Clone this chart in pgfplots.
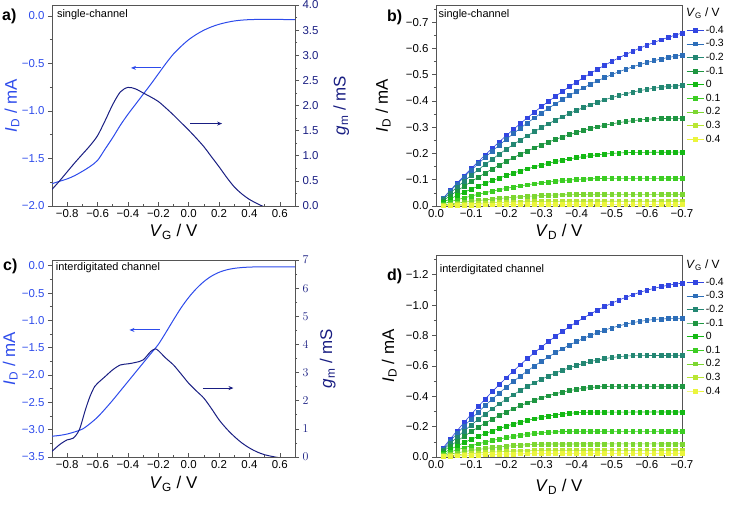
\documentclass[border=0pt]{standalone}
\usepackage{fontspec}
\setmainfont{Liberation Sans}
\usepackage{pgfplots}
\pgfplotsset{compat=1.18}
\usepackage{pgfplotstable}
\usetikzlibrary{arrows.meta}

\definecolor{idblue}{RGB}{45,75,235}
\definecolor{gmnavy}{RGB}{25,30,130}
\definecolor{axgray}{RGB}{85,85,85}
\definecolor{c1}{RGB}{50,70,225}
\definecolor{c2}{RGB}{45,110,185}
\definecolor{c3}{RGB}{35,135,115}
\definecolor{c4}{RGB}{30,150,65}
\definecolor{c5}{RGB}{20,185,20}
\definecolor{c6}{RGB}{60,205,35}
\definecolor{c7}{RGB}{125,215,50}
\definecolor{c8}{RGB}{185,230,50}
\definecolor{c9}{RGB}{235,245,60}

\pgfplotstableread{
V s1 s2 s3 s4 s5 s6 s7 s8 s9
-0.02 -0.0297 -0.0286 -0.0247 -0.0197 -0.0138 -0.0082 -0.0039 -0.0019 -0.0008
-0.04 -0.0587 -0.0566 -0.0486 -0.0388 -0.0270 -0.0161 -0.0076 -0.0038 -0.0015
-0.06 -0.0871 -0.0838 -0.0719 -0.0573 -0.0398 -0.0237 -0.0112 -0.0055 -0.0022
-0.08 -0.1149 -0.1102 -0.0946 -0.0752 -0.0522 -0.0309 -0.0145 -0.0071 -0.0028
-0.10 -0.1420 -0.1360 -0.1165 -0.0925 -0.0640 -0.0378 -0.0177 -0.0086 -0.0034
-0.12 -0.1685 -0.1610 -0.1378 -0.1092 -0.0754 -0.0444 -0.0207 -0.0100 -0.0039
-0.14 -0.1943 -0.1854 -0.1583 -0.1253 -0.0862 -0.0506 -0.0236 -0.0113 -0.0043
-0.16 -0.2195 -0.2090 -0.1782 -0.1408 -0.0966 -0.0564 -0.0262 -0.0124 -0.0047
-0.18 -0.2441 -0.2318 -0.1975 -0.1557 -0.1066 -0.0620 -0.0286 -0.0135 -0.0051
-0.20 -0.2680 -0.2540 -0.2160 -0.1700 -0.1160 -0.0672 -0.0309 -0.0144 -0.0054
-0.22 -0.2913 -0.2754 -0.2339 -0.1837 -0.1250 -0.0721 -0.0330 -0.0152 -0.0057
-0.24 -0.3139 -0.2962 -0.2510 -0.1968 -0.1334 -0.0766 -0.0349 -0.0159 -0.0059
-0.26 -0.3359 -0.3162 -0.2675 -0.2093 -0.1414 -0.0808 -0.0367 -0.0165 -0.0060
-0.28 -0.3573 -0.3354 -0.2834 -0.2212 -0.1490 -0.0847 -0.0382 -0.0170 -0.0061
-0.30 -0.3780 -0.3540 -0.2985 -0.2325 -0.1560 -0.0882 -0.0396 -0.0174 -0.0062
-0.32 -0.3981 -0.3718 -0.3130 -0.2432 -0.1626 -0.0914 -0.0408 -0.0177 -0.0062
-0.34 -0.4175 -0.3890 -0.3267 -0.2533 -0.1686 -0.0942 -0.0418 -0.0178 -0.0062
-0.36 -0.4363 -0.4054 -0.3398 -0.2628 -0.1742 -0.0968 -0.0426 -0.0179 -0.0062
-0.38 -0.4545 -0.4210 -0.3523 -0.2717 -0.1794 -0.0990 -0.0432 -0.0179 -0.0062
-0.40 -0.4720 -0.4360 -0.3640 -0.2800 -0.1840 -0.1008 -0.0437 -0.0179 -0.0062
-0.42 -0.4889 -0.4502 -0.3751 -0.2877 -0.1882 -0.1023 -0.0440 -0.0179 -0.0062
-0.44 -0.5051 -0.4638 -0.3854 -0.2948 -0.1918 -0.1035 -0.0441 -0.0179 -0.0062
-0.46 -0.5207 -0.4766 -0.3951 -0.3013 -0.1950 -0.1043 -0.0441 -0.0179 -0.0062
-0.48 -0.5357 -0.4886 -0.4042 -0.3072 -0.1978 -0.1048 -0.0441 -0.0179 -0.0062
-0.50 -0.5500 -0.5000 -0.4125 -0.3125 -0.2000 -0.1050 -0.0441 -0.0179 -0.0062
-0.52 -0.5637 -0.5106 -0.4202 -0.3172 -0.2018 -0.1050 -0.0441 -0.0179 -0.0062
-0.54 -0.5767 -0.5206 -0.4271 -0.3213 -0.2030 -0.1050 -0.0441 -0.0179 -0.0062
-0.56 -0.5891 -0.5298 -0.4334 -0.3248 -0.2038 -0.1050 -0.0441 -0.0179 -0.0062
-0.58 -0.6009 -0.5382 -0.4391 -0.3277 -0.2042 -0.1050 -0.0441 -0.0179 -0.0062
-0.60 -0.6120 -0.5460 -0.4440 -0.3300 -0.2043 -0.1050 -0.0441 -0.0179 -0.0062
-0.62 -0.6225 -0.5530 -0.4483 -0.3317 -0.2045 -0.1050 -0.0441 -0.0179 -0.0062
-0.64 -0.6323 -0.5594 -0.4518 -0.3328 -0.2046 -0.1050 -0.0441 -0.0179 -0.0062
-0.66 -0.6415 -0.5650 -0.4547 -0.3333 -0.2048 -0.1050 -0.0441 -0.0179 -0.0062
-0.68 -0.6501 -0.5698 -0.4570 -0.3334 -0.2049 -0.1050 -0.0441 -0.0179 -0.0062
-0.70 -0.6580 -0.5740 -0.4585 -0.3335 -0.2050 -0.1050 -0.0441 -0.0179 -0.0062
}\tabB

\pgfplotstableread{
V s1 s2 s3 s4 s5 s6 s7 s8 s9
-0.02 -0.0592 -0.0532 -0.0452 -0.0363 -0.0254 -0.0166 -0.0097 -0.0052 -0.0027
-0.04 -0.1169 -0.1048 -0.0888 -0.0711 -0.0497 -0.0323 -0.0188 -0.0101 -0.0052
-0.06 -0.1730 -0.1548 -0.1309 -0.1044 -0.0729 -0.0471 -0.0274 -0.0147 -0.0076
-0.08 -0.2275 -0.2032 -0.1713 -0.1362 -0.0948 -0.0612 -0.0353 -0.0188 -0.0098
-0.10 -0.2805 -0.2500 -0.2102 -0.1666 -0.1157 -0.0743 -0.0427 -0.0227 -0.0118
-0.12 -0.3319 -0.2952 -0.2475 -0.1955 -0.1354 -0.0866 -0.0495 -0.0262 -0.0136
-0.14 -0.3818 -0.3388 -0.2832 -0.2229 -0.1540 -0.0980 -0.0557 -0.0294 -0.0153
-0.16 -0.4301 -0.3808 -0.3173 -0.2489 -0.1714 -0.1086 -0.0613 -0.0322 -0.0168
-0.18 -0.4768 -0.4212 -0.3498 -0.2734 -0.1877 -0.1183 -0.0663 -0.0347 -0.0181
-0.20 -0.5220 -0.4600 -0.3808 -0.2964 -0.2028 -0.1272 -0.0708 -0.0368 -0.0192
-0.22 -0.5656 -0.4972 -0.4102 -0.3179 -0.2168 -0.1352 -0.0747 -0.0386 -0.0202
-0.24 -0.6077 -0.5328 -0.4380 -0.3380 -0.2296 -0.1424 -0.0780 -0.0400 -0.0209
-0.26 -0.6482 -0.5668 -0.4642 -0.3566 -0.2413 -0.1487 -0.0807 -0.0411 -0.0215
-0.28 -0.6871 -0.5992 -0.4888 -0.3737 -0.2519 -0.1541 -0.0828 -0.0419 -0.0220
-0.30 -0.7245 -0.6300 -0.5118 -0.3894 -0.2613 -0.1587 -0.0843 -0.0423 -0.0222
-0.32 -0.7603 -0.6592 -0.5332 -0.4036 -0.2696 -0.1624 -0.0852 -0.0424 -0.0223
-0.34 -0.7946 -0.6868 -0.5531 -0.4163 -0.2767 -0.1653 -0.0856 -0.0424 -0.0223
-0.36 -0.8273 -0.7128 -0.5714 -0.4275 -0.2827 -0.1673 -0.0857 -0.0424 -0.0223
-0.38 -0.8584 -0.7372 -0.5881 -0.4373 -0.2875 -0.1685 -0.0858 -0.0424 -0.0223
-0.40 -0.8880 -0.7600 -0.6032 -0.4456 -0.2912 -0.1688 -0.0859 -0.0424 -0.0223
-0.42 -0.9160 -0.7812 -0.6167 -0.4524 -0.2937 -0.1689 -0.0860 -0.0424 -0.0223
-0.44 -0.9425 -0.8008 -0.6287 -0.4578 -0.2952 -0.1690 -0.0860 -0.0424 -0.0223
-0.46 -0.9674 -0.8188 -0.6390 -0.4617 -0.2955 -0.1690 -0.0860 -0.0424 -0.0223
-0.48 -0.9907 -0.8352 -0.6478 -0.4641 -0.2956 -0.1690 -0.0860 -0.0424 -0.0223
-0.50 -1.0125 -0.8500 -0.6550 -0.4650 -0.2957 -0.1690 -0.0860 -0.0424 -0.0223
-0.52 -1.0327 -0.8632 -0.6606 -0.4650 -0.2958 -0.1690 -0.0860 -0.0424 -0.0223
-0.54 -1.0514 -0.8748 -0.6646 -0.4650 -0.2959 -0.1690 -0.0860 -0.0424 -0.0223
-0.56 -1.0685 -0.8848 -0.6671 -0.4650 -0.2960 -0.1690 -0.0860 -0.0424 -0.0223
-0.58 -1.0840 -0.8932 -0.6679 -0.4650 -0.2960 -0.1690 -0.0860 -0.0424 -0.0223
-0.60 -1.0980 -0.9000 -0.6680 -0.4650 -0.2960 -0.1690 -0.0860 -0.0424 -0.0223
-0.62 -1.1104 -0.9052 -0.6682 -0.4650 -0.2960 -0.1690 -0.0860 -0.0424 -0.0223
-0.64 -1.1213 -0.9088 -0.6684 -0.4650 -0.2960 -0.1690 -0.0860 -0.0424 -0.0223
-0.66 -1.1306 -0.9108 -0.6686 -0.4650 -0.2960 -0.1690 -0.0860 -0.0424 -0.0223
-0.68 -1.1383 -0.9112 -0.6688 -0.4650 -0.2960 -0.1690 -0.0860 -0.0424 -0.0223
-0.70 -1.1445 -0.9113 -0.6690 -0.4650 -0.2960 -0.1690 -0.0860 -0.0424 -0.0223
}\tabD

\pgfplotsset{
  panel/.style={
    scale only axis, anchor=south west, clip mode=individual,
    axis line style={draw=axgray, line width=0.7bp},
    tick style={axgray, line width=0.6bp},
    major tick length=4bp, minor tick length=2.2bp,
    ytick align=outside, xtick align=inside,
    tick label style={font=\fontsize{11.5}{13}\selectfont},
    every axis label/.append style={font=\fontsize{17}{20}\selectfont},
  },
  outp/.style={
    x dir=reverse, y dir=reverse,
    xmin=-0.7, xmax=0,
    xtick={0,-0.1,-0.2,-0.3,-0.4,-0.5,-0.6,-0.7},
    xticklabels={0.0,−0.1,−0.2,−0.3,−0.4,−0.5,−0.6,−0.7},
    minor xtick={-0.05,-0.15,-0.25,-0.35,-0.45,-0.55,-0.65},
    xtick pos=bottom, ytick pos=left,
    xlabel={\textit{V}\textsubscript{D} / V},
    ylabel={\textit{I}\textsubscript{D} / mA},
    legend cell align=left,
  },
  ser/.style={#1, mark=square*, mark size=1.9bp, line width=0.6bp, mark options={solid}},
}

\begin{document}
\begin{tikzpicture}
\useasboundingbox (0,0) rectangle (737bp,507bp);

% ---------------- panel a ----------------
\begin{axis}[panel, at={(52bp,301bp)}, width=243bp, height=201bp,
  xmin=-0.9, xmax=0.7, ymin=-2.0, ymax=0.115,
  xtick={-0.8,-0.6,-0.4,-0.2,0,0.2,0.4,0.6},
  xticklabels={−0.8,−0.6,−0.4,−0.2,0.0,0.2,0.4,0.6},
  minor xtick={-0.9,-0.7,-0.5,-0.3,-0.1,0.1,0.3,0.5,0.7},
  ytick={-2,-1.5,-1,-0.5,0}, yticklabels={−2.0,−1.5,−1.0,−0.5,0.0},
  minor ytick={-1.75,-1.25,-0.75,-0.25},
  xtick pos=bottom, ytick pos=left,
  yticklabel style={text=idblue},
  xlabel={\textit{V}\textsubscript{G} / V},
  ylabel={\textit{I}\textsubscript{D} / mA},
  ylabel style={text=idblue, at={(axis description cs:-0.165,0.5)}, anchor=center},
  xlabel style={at={(axis description cs:0.5,-0.13)}, anchor=center},
]
\addplot[idblue, line width=1bp, smooth] coordinates {
(-0.90,-1.765) (-0.85,-1.74) (-0.80,-1.715) (-0.75,-1.68) (-0.70,-1.635)
(-0.65,-1.585) (-0.60,-1.52) (-0.55,-1.40) (-0.50,-1.28) (-0.45,-1.15)
(-0.40,-1.035) (-0.35,-0.93) (-0.30,-0.825) (-0.25,-0.72) (-0.20,-0.61)
(-0.15,-0.50) (-0.10,-0.40) (-0.05,-0.32) (0.00,-0.25) (0.05,-0.195)
(0.10,-0.15) (0.15,-0.115) (0.20,-0.088) (0.25,-0.068) (0.30,-0.053)
(0.35,-0.044) (0.40,-0.039) (0.45,-0.037) (0.50,-0.036) (0.60,-0.037) (0.70,-0.04)};
\draw[idblue, line width=0.9bp, -{Stealth[length=5bp,width=4bp]}] (axis cs:-0.18,-0.547) -- (axis cs:-0.38,-0.547);
\node[anchor=west, font=\fontsize{11}{13}\selectfont, inner sep=0pt] at (axis description cs:0.02,0.95) {single-channel};
\end{axis}
\begin{axis}[panel, at={(52bp,301bp)}, width=243bp, height=201bp,
  xmin=-0.9, xmax=0.7, ymin=0, ymax=4,
  axis x line=none, axis y line*=right,
  ytick={0,0.5,1,1.5,2,2.5,3,3.5,4},
  yticklabels={0.0,0.5,1.0,1.5,2.0,2.5,3.0,3.5,4.0},
  minor ytick={0.25,0.75,1.25,1.75,2.25,2.75,3.25,3.75},
  yticklabel style={text=gmnavy},
  ylabel={\textit{g}\textsubscript{m} / mS},
  ylabel style={text=gmnavy, at={(axis description cs:1.19,0.5)}, anchor=center},
]
\addplot[gmnavy, line width=1bp, smooth] coordinates {
(-0.90,0.33) (-0.85,0.50) (-0.80,0.68) (-0.75,0.86) (-0.70,1.03) (-0.65,1.20)
(-0.60,1.40) (-0.55,1.70) (-0.50,2.02) (-0.45,2.27) (-0.40,2.36) (-0.35,2.33)
(-0.30,2.25) (-0.25,2.17) (-0.20,2.08) (-0.15,1.95) (-0.10,1.81) (-0.05,1.66)
(0.00,1.51) (0.05,1.35) (0.10,1.18) (0.15,0.98) (0.20,0.78) (0.25,0.57)
(0.30,0.38) (0.35,0.24) (0.40,0.13) (0.45,0.05) (0.50,-0.02) (0.60,-0.10) (0.70,-0.15)};
\draw[gmnavy, line width=0.9bp, -{Stealth[length=5bp,width=4bp]}] (axis cs:0.01,1.64) -- (axis cs:0.22,1.64);
\end{axis}

% ---------------- panel b ----------------
\begin{axis}[panel, outp, at={(436bp,301bp)}, width=246bp, height=201bp,
  ymin=-0.765, ymax=0,
  ytick={-0.7,-0.6,-0.5,-0.4,-0.3,-0.2,-0.1,0},
  yticklabels={−0.7,−0.6,−0.5,−0.4,−0.3,−0.2,−0.1,0.0},
  minor ytick={-0.75,-0.65,-0.55,-0.45,-0.35,-0.25,-0.15,-0.05},
  ylabel style={at={(axis description cs:-0.215,0.5)}, anchor=center},
  xlabel style={at={(axis description cs:0.5,-0.13)}, anchor=center},
  legend style={at={(axis description cs:1.017,0.909)}, anchor=north west, draw=none, fill=none,
    font=\fontsize{10.5}{12}\selectfont, inner sep=0pt, row sep=0pt,
    nodes={inner sep=1.8bp, text height=8bp, text depth=2bp}},
]
\addplot[ser=c1] table[x=V, y=s1] {\tabB};
\addplot[ser=c2] table[x=V, y=s2] {\tabB};
\addplot[ser=c3] table[x=V, y=s3] {\tabB};
\addplot[ser=c4] table[x=V, y=s4] {\tabB};
\addplot[ser=c5] table[x=V, y=s5] {\tabB};
\addplot[ser=c6] table[x=V, y=s6] {\tabB};
\addplot[ser=c7] table[x=V, y=s7] {\tabB};
\addplot[ser=c8] table[x=V, y=s8] {\tabB};
\addplot[ser=c9] table[x=V, y=s9] {\tabB};
\legend{-0.4,-0.3,-0.2,-0.1,0,0.1,0.2,0.3,0.4}
\node[anchor=west, font=\fontsize{11}{13}\selectfont, inner sep=0pt] at (axis description cs:0.01,0.95) {single-channel};
\node[anchor=west, font=\fontsize{12}{14}\selectfont, inner sep=0pt] at (axis description cs:1.016,0.96) {\textit{V}\textsubscript{G} / V};
\end{axis}

% ---------------- panel c ----------------
\begin{axis}[panel, at={(52bp,50bp)}, width=243bp, height=197bp,
  xmin=-0.9, xmax=0.7, ymin=-3.5, ymax=0.105,
  xtick={-0.8,-0.6,-0.4,-0.2,0,0.2,0.4,0.6},
  xticklabels={−0.8,−0.6,−0.4,−0.2,0.0,0.2,0.4,0.6},
  minor xtick={-0.9,-0.7,-0.5,-0.3,-0.1,0.1,0.3,0.5,0.7},
  ytick={-3.5,-3,-2.5,-2,-1.5,-1,-0.5,0},
  yticklabels={−3.5,−3.0,−2.5,−2.0,−1.5,−1.0,−0.5,0.0},
  minor ytick={-3.25,-2.75,-2.25,-1.75,-1.25,-0.75,-0.25},
  xtick pos=bottom, ytick pos=left,
  yticklabel style={text=idblue},
  xlabel={\textit{V}\textsubscript{G} / V},
  ylabel={\textit{I}\textsubscript{D} / mA},
  ylabel style={text=idblue, at={(axis description cs:-0.172,0.5)}, anchor=center},
  xlabel style={at={(axis description cs:0.5,-0.137)}, anchor=center},
]
\addplot[idblue, line width=1bp, smooth] coordinates {
(-0.90,-3.12) (-0.85,-3.105) (-0.80,-3.08) (-0.75,-3.04) (-0.70,-2.99)
(-0.65,-2.89) (-0.60,-2.77) (-0.55,-2.62) (-0.50,-2.46) (-0.45,-2.29)
(-0.40,-2.12) (-0.35,-1.95) (-0.30,-1.78) (-0.25,-1.61) (-0.20,-1.44)
(-0.15,-1.22) (-0.10,-0.99) (-0.05,-0.77) (0.00,-0.58) (0.05,-0.42)
(0.10,-0.29) (0.15,-0.19) (0.20,-0.12) (0.25,-0.075) (0.30,-0.048)
(0.35,-0.033) (0.40,-0.025) (0.45,-0.021) (0.50,-0.02) (0.60,-0.02) (0.70,-0.02)};
\draw[idblue, line width=0.9bp, -{Stealth[length=5bp,width=4bp]}] (axis cs:-0.19,-1.175) -- (axis cs:-0.39,-1.175);
\node[anchor=west, font=\fontsize{11}{13}\selectfont, inner sep=0pt] at (axis description cs:0.015,0.96) {interdigitated channel};
\end{axis}
\begin{axis}[panel, at={(52bp,50bp)}, width=243bp, height=197bp,
  xmin=-0.9, xmax=0.7, ymin=0, ymax=7,
  axis x line=none, axis y line*=right,
  ytick={0,1,2,3,4,5,6,7},
  minor ytick={0.5,1.5,2.5,3.5,4.5,5.5,6.5},
  yticklabel style={text=gmnavy},
  ylabel={\textit{g}\textsubscript{m} / mS},
  ylabel style={text=gmnavy, at={(axis description cs:1.135,0.5)}, anchor=center},
]
\addplot[gmnavy, line width=1bp, smooth] coordinates {
(-0.90,0.20) (-0.85,0.44) (-0.80,0.61) (-0.76,0.67) (-0.72,0.97) (-0.68,1.68)
(-0.65,2.15) (-0.62,2.50) (-0.60,2.62) (-0.55,2.86) (-0.50,3.10) (-0.45,3.27)
(-0.40,3.31) (-0.35,3.36) (-0.30,3.45) (-0.25,3.75) (-0.22,3.84) (-0.20,3.78)
(-0.15,3.51) (-0.10,3.27) (-0.05,2.95) (0.00,2.62) (0.05,2.35) (0.10,2.09)
(0.15,1.72) (0.20,1.32) (0.25,1.00) (0.30,0.73) (0.35,0.50) (0.40,0.32)
(0.45,0.18) (0.50,0.08) (0.55,0.02) (0.60,-0.03) (0.70,-0.10)};
\draw[gmnavy, line width=0.9bp, -{Stealth[length=5bp,width=4bp]}] (axis cs:0.093,2.45) -- (axis cs:0.295,2.45);
\end{axis}

% ---------------- panel d ----------------
\begin{axis}[panel, outp, at={(436bp,50bp)}, width=246bp, height=202bp,
  ymin=-1.33, ymax=0,
  ytick={-1.2,-1.0,-0.8,-0.6,-0.4,-0.2,0},
  yticklabels={−1.2,−1.0,−0.8,−0.6,−0.4,−0.2,0.0},
  minor ytick={-1.3,-1.1,-0.9,-0.7,-0.5,-0.3,-0.1},
  ylabel style={at={(axis description cs:-0.19,0.5)}, anchor=center},
  xlabel style={at={(axis description cs:0.5,-0.148)}, anchor=center},
  legend style={at={(axis description cs:1.017,0.90)}, anchor=north west, draw=none, fill=none,
    font=\fontsize{10.5}{12}\selectfont, inner sep=0pt, row sep=0pt,
    nodes={inner sep=1.8bp, text height=8bp, text depth=2bp}},
]
\addplot[ser=c1] table[x=V, y=s1] {\tabD};
\addplot[ser=c2] table[x=V, y=s2] {\tabD};
\addplot[ser=c3] table[x=V, y=s3] {\tabD};
\addplot[ser=c4] table[x=V, y=s4] {\tabD};
\addplot[ser=c5] table[x=V, y=s5] {\tabD};
\addplot[ser=c6] table[x=V, y=s6] {\tabD};
\addplot[ser=c7] table[x=V, y=s7] {\tabD};
\addplot[ser=c8] table[x=V, y=s8] {\tabD};
\addplot[ser=c9] table[x=V, y=s9] {\tabD};
\legend{-0.4,-0.3,-0.2,-0.1,0,0.1,0.2,0.3,0.4}
\node[anchor=west, font=\fontsize{11}{13}\selectfont, inner sep=0pt] at (axis description cs:0.015,0.926) {interdigitated channel};
\node[anchor=west, font=\fontsize{12}{14}\selectfont, inner sep=0pt] at (axis description cs:1.016,0.95) {\textit{V}\textsubscript{G} / V};
\end{axis}

% panel letters
\node[anchor=west, font=\bfseries\fontsize{16}{18}\selectfont, inner sep=0pt] at (2bp,491bp) {a)};
\node[anchor=west, font=\bfseries\fontsize{16}{18}\selectfont, inner sep=0pt] at (387bp,490bp) {b)};
\node[anchor=west, font=\bfseries\fontsize{16}{18}\selectfont, inner sep=0pt] at (3bp,241bp) {c)};
\node[anchor=west, font=\bfseries\fontsize{16}{18}\selectfont, inner sep=0pt] at (387bp,231bp) {d)};
\end{tikzpicture}
\end{document}
